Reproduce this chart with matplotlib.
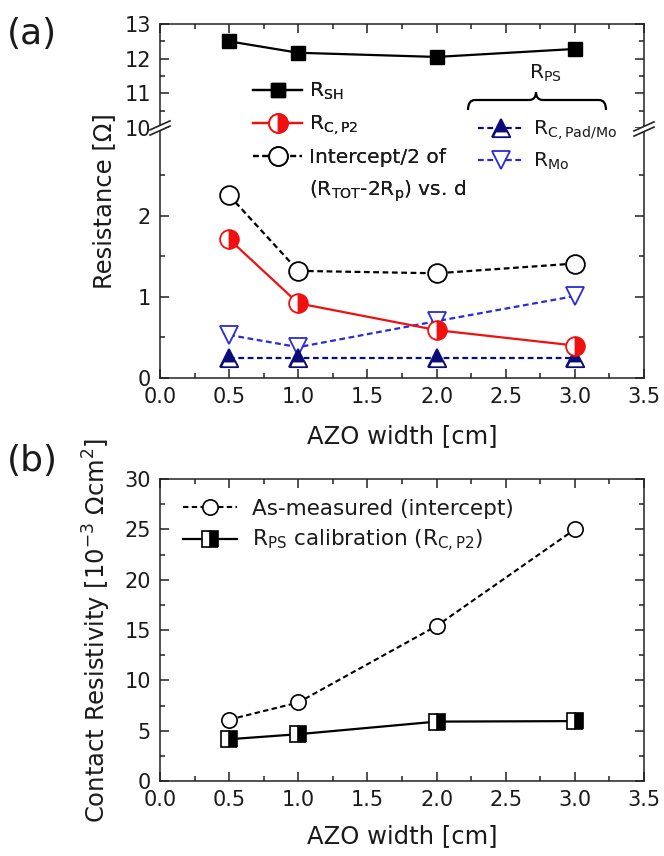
import matplotlib
matplotlib.use('Agg')
import matplotlib.pyplot as plt
import matplotlib.transforms as mtransforms
from matplotlib.lines import Line2D
from matplotlib.path import Path
from matplotlib.patches import PathPatch, Polygon
from matplotlib.ticker import MultipleLocator

W, H = 664, 856

# AZO stripe width [cm]
width = [0.5, 1.0, 2.0, 3.0]

# (a) resistances [ohm]
r_sh = [12.5, 12.17, 12.05, 12.28]
r_cp2 = [1.71, 0.92, 0.59, 0.40]
intercept_half = [2.25, 1.32, 1.29, 1.41]
r_pad_mo = [0.25, 0.25, 0.25, 0.25]
r_mo = [0.53, 0.38, 0.70, 1.01]

# (b) contact resistivity [1e-3 ohm cm^2]
rho_measured = [6.1, 7.8, 15.4, 25.0]
rho_calibrated = [4.15, 4.65, 5.9, 5.95]

TXT = '#1a1a1a'
RED = '#f01010'
BLUE = '#2a2ad8'
NAVY = '#0c0c78'

plt.rcParams.update({
    'font.family': 'DejaVu Sans',
    'mathtext.default': 'regular',
    'axes.linewidth': 1.1,
    'axes.edgecolor': '#222222',
    'text.color': TXT,
    'xtick.color': '#222222',
    'ytick.color': '#222222',
    'xtick.labelcolor': TXT,
    'ytick.labelcolor': TXT,
})

fig = plt.figure(figsize=(W / 100, H / 100), dpi=100)
# pixel coordinates, origin top-left
px = mtransforms.Affine2D().scale(1 / W, -1 / H).translate(0, 1) + fig.transFigure


def rect(x0, y0, x1, y1):
    return [x0 / W, 1 - y1 / H, (x1 - x0) / W, (y1 - y0) / H]


def style(ax, top=True, bottom=True, xlabels=True):
    ax.set_xlim(0, 3.5)
    ax.xaxis.set_major_locator(MultipleLocator(0.5))
    ax.xaxis.set_minor_locator(MultipleLocator(0.25))
    ax.tick_params(which='both', direction='in', top=top, bottom=bottom,
                   left=True, right=True, labelsize=15, width=1.1)
    ax.tick_params(which='major', length=6.3, pad=6.5)
    ax.tick_params(which='minor', length=3.4)
    ax.tick_params(axis='x', labelbottom=xlabels)


ax_top = fig.add_axes(rect(160, 24, 644, 128))
ax_low = fig.add_axes(rect(160, 128, 644, 378))
ax_b = fig.add_axes(rect(160, 479, 644, 781))

style(ax_top, top=True, bottom=False, xlabels=False)
ax_top.spines['bottom'].set_visible(False)
ax_top.set_ylim(10, 13)
ax_top.yaxis.set_major_locator(MultipleLocator(1))
ax_top.yaxis.set_minor_locator(MultipleLocator(0.5))

style(ax_low, top=False, bottom=True)
ax_low.spines['top'].set_visible(False)
ax_low.set_ylim(0, 3.08)
ax_low.set_yticks([0, 1, 2])
ax_low.set_yticks([0.5, 1.5, 2.5], minor=True)

style(ax_b)
ax_b.set_ylim(0, 30)
ax_b.yaxis.set_major_locator(MultipleLocator(5))
ax_b.yaxis.set_minor_locator(MultipleLocator(2.5))

dash = (0, (2.6, 1.6))

# panel (a)
h_sh, = ax_top.plot(width, r_sh, '-', color='black', lw=1.6, marker='s',
                    ms=10.5, mfc='black', mec='black')

h_mo, = ax_low.plot(width, r_mo, linestyle=dash, color=BLUE, lw=1.6, marker='v',
                    ms=13, mfc='white', mec=BLUE, mew=1.3)

# up triangle with a white band across its base
band = [(-1, -1), (1, -1), (0.675, -0.35), (-0.675, -0.35), (-1, -1)]
h_pad, = ax_low.plot(width, r_pad_mo, linestyle=dash, color=NAVY, lw=1.6, marker='^',
                     ms=12.5, mfc=NAVY, mec=NAVY, mew=1.3)
h_pad_band, = ax_low.plot(width, r_pad_mo, linestyle='none', marker=band,
                          ms=12.5, mfc='white', mec=NAVY, mew=1.3)

h_int, = ax_low.plot(width, intercept_half, linestyle=dash, color='black', lw=1.6,
                     marker='o', ms=13.5, mfc='white', mec='black', mew=1.3)
h_cp2, = ax_low.plot(width, r_cp2, '-', color=RED, lw=1.6, marker='o', ms=13.5,
                     fillstyle='right', mfc=RED, mfcalt='white', mec=RED, mew=1.3)

blank = Line2D([], [], linestyle='none')

leg_left = fig.legend(
    [h_sh, h_cp2, h_int, blank],
    ['R$_{SH}$', 'R$_{C,P2}$', 'Intercept/2 of', '(R$_{TOT}$-2R$_{p}$) vs. d'],
    loc='upper left', bbox_to_anchor=(253, 81), bbox_transform=px,
    frameon=False, fontsize=14.5, handlelength=2.45, handletextpad=0.35,
    borderpad=0, borderaxespad=0, labelspacing=0.55, numpoints=1)

leg_right = fig.legend(
    [(h_pad, h_pad_band), h_mo],
    ['R$_{C,Pad/Mo}$', 'R$_{Mo}$'],
    loc='upper left', bbox_to_anchor=(478, 118), bbox_transform=px,
    frameon=False, fontsize=14.5, handlelength=2.25, handletextpad=0.5,
    borderpad=0, borderaxespad=0, labelspacing=0.45, numpoints=1)
fig.add_artist(leg_left)

# brace grouping the two R_PS components
bx0, bx1, bxc, by = 468, 606, 536, 100
brace = Path(
    [(bx0, by + 10), (bx0, by), (bx0 + 7, by), (bxc - 7, by), (bxc, by), (bxc, by - 8),
     (bxc, by), (bxc + 7, by), (bx1 - 7, by), (bx1, by), (bx1, by + 10)],
    [Path.MOVETO, Path.CURVE3, Path.CURVE3, Path.LINETO, Path.CURVE3, Path.CURVE3,
     Path.CURVE3, Path.CURVE3, Path.LINETO, Path.CURVE3, Path.CURVE3])
fig.add_artist(PathPatch(brace, fill=False, lw=1.6, edgecolor='black', transform=px))
fig.text(545 / W, 1 - 73 / H, 'R$_{PS}$', fontsize=14.5, ha='center', va='center')


def axis_break(xc, yc):
    dx, dy, gap = 10, 4.5, 2.6
    fig.add_artist(Polygon([(xc - 5, yc + 2.25 - gap), (xc + 5, yc - 2.25 - gap),
                            (xc + 5, yc - 2.25 + gap), (xc - 5, yc + 2.25 + gap)],
                           closed=True, facecolor='white', edgecolor='none',
                           transform=px, zorder=5))
    for s in (-gap, gap):
        fig.add_artist(Line2D([xc - dx, xc + dx], [yc + dy + s, yc - dy + s],
                              transform=px, color='#222222', lw=1.2, zorder=6))


axis_break(160, 128)
axis_break(644, 129)

fig.text(32 / W, 1 - 34 / H, '(a)', fontsize=26, ha='center', va='center')
fig.text(32 / W, 1 - 461 / H, '(b)', fontsize=26, ha='center', va='center')

fig.text(111 / W, 1 - 201 / H, 'Resistance [Ω]', fontsize=17.5, rotation=90,
         rotation_mode='anchor', ha='center', va='baseline')
fig.text(402 / W, 1 - 443 / H, 'AZO width [cm]', fontsize=17.5, ha='center', va='baseline')

# panel (b)
h_meas, = ax_b.plot(width, rho_measured, linestyle=dash, color='black', lw=1.5,
                    marker='o', ms=11, mfc='white', mec='black', mew=1.2)
h_cal, = ax_b.plot(width, rho_calibrated, '-', color='black', lw=1.6, marker='s',
                   ms=11.5, fillstyle='right', mfc='black', mfcalt='white',
                   mec='black', mew=1.2)
ax_b.legend([h_meas, h_cal],
            ['As-measured (intercept)', 'R$_{PS}$ calibration (R$_{C,P2}$)'],
            loc='upper left', bbox_to_anchor=(183, 499), bbox_transform=px,
            frameon=False, fontsize=15.5, handlelength=2.5, handletextpad=0.7,
            borderpad=0, borderaxespad=0, labelspacing=0.4, numpoints=1)

fig.text(106 / W, 1 - 630 / H, 'Contact Resistivity [10$^{-3}$ Ωcm$^{2}$]',
         fontsize=17.5, rotation=90, rotation_mode='anchor', ha='center', va='baseline')
fig.text(402 / W, 1 - 843 / H, 'AZO width [cm]', fontsize=17.5, ha='center', va='baseline')

fig.savefig('out.png', dpi=100)
